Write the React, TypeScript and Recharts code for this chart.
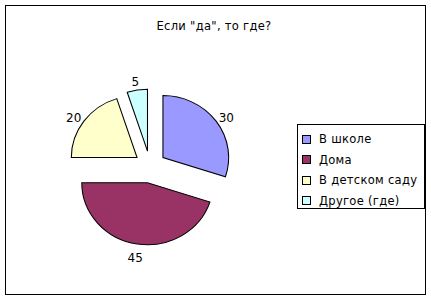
import React from 'react';
import { PieChart, Pie, Cell, Legend, Sector } from 'recharts';

const title = 'Если "да", то где?';
const categories = ['В школе', 'Дома', 'В детском саду', 'Другое (где)'];
const values = [30, 45, 20, 5];
const colors = ['#9999FF', '#993366', '#FFFFCC', '#CCFFFF'];

const data = categories.map((name, i) => ({ name, value: values[i] }));

const RAD = Math.PI / 180;
const EXPLODE = 16;
const SX = 1.06;
const FONT = '"DejaVu Sans", Verdana, sans-serif';

const ExplodedSector = (props: any) => {
  const { cx, cy, midAngle } = props;
  const dx = Math.cos(-midAngle * RAD) * EXPLODE;
  const dy = Math.sin(-midAngle * RAD) * EXPLODE;
  return (
    <g transform={`translate(${cx + dx} ${cy + dy}) scale(${SX} 1) translate(${-cx} ${-cy})`}>
      <Sector {...props} stroke="#000" strokeWidth={1} />
    </g>
  );
};

const renderLabel = (props: any) => {
  const { cx, cy, midAngle, outerRadius, value } = props;
  const r = outerRadius + 27;
  const x = cx + Math.cos(-midAngle * RAD) * r * SX;
  const y = cy + Math.sin(-midAngle * RAD) * r + 3;
  return (
    <text x={x} y={y} textAnchor="middle" dominantBaseline="central" fontSize={12} fill="#000" fontFamily={FONT}>
      {value}
    </text>
  );
};

const renderLegend = () => (
  <div
    style={{
      border: '1px solid #000',
      boxSizing: 'border-box',
      width: 128,
      height: 85,
      paddingTop: 4,
      background: '#fff',
      fontFamily: FONT,
      fontSize: 11.5,
      color: '#000',
    }}
  >
    {categories.map((name, i) => (
      <div key={name} style={{ display: 'flex', alignItems: 'center', height: 20.5 }}>
        <span
          style={{
            display: 'inline-block',
            width: 7,
            height: 7,
            marginLeft: 4,
            marginRight: 8,
            background: colors[i],
            border: '1px solid #000',
          }}
        />
        <span style={{ whiteSpace: 'nowrap', letterSpacing: 0.3 }}>{name}</span>
      </div>
    ))}
  </div>
);

export default function App() {
  return (
    <div style={{ position: 'absolute', left: 0, top: 0, width: 431, height: 300, background: '#fff' }}>
      <div
        style={{
          position: 'absolute',
          left: 5,
          top: 5,
          width: 421,
          height: 290,
          border: '1px solid #000',
          boxSizing: 'border-box',
        }}
      />
      <div
        style={{
          position: 'absolute',
          left: 0,
          width: 428,
          top: 19,
          textAlign: 'center',
          fontFamily: FONT,
          fontSize: 11.5,
          letterSpacing: 0.3,
          color: '#000',
        }}
      >
        {title}
      </div>
      <div style={{ position: 'absolute', left: 0, top: 0 }}>
        <PieChart width={431} height={300} margin={{ top: 0, right: 0, bottom: 0, left: 0 }}>
          <Pie
            data={data}
            dataKey="value"
            nameKey="name"
            cx={150}
            cy={167}
            outerRadius={62}
            startAngle={90}
            endAngle={-270}
            isAnimationActive={false}
            shape={ExplodedSector}
            label={renderLabel}
            labelLine={false}
            stroke="#000"
          >
            {data.map((d, i) => (
              <Cell key={d.name} fill={colors[i]} />
            ))}
          </Pie>
          <Legend
            content={renderLegend}
            wrapperStyle={{ position: 'absolute', left: 297, top: 124, width: 128, height: 85 }}
          />
        </PieChart>
      </div>
    </div>
  );
}
